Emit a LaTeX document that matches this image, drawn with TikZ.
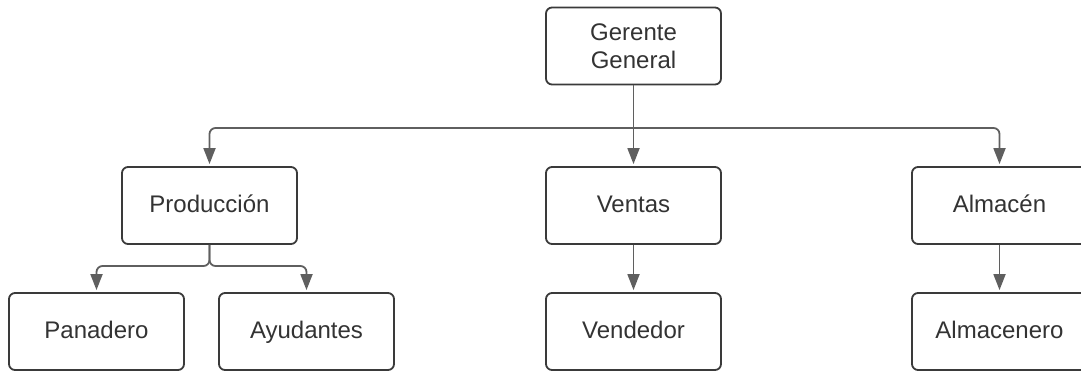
\documentclass[tikz,border=0pt]{standalone}
\usepackage{fontspec}
\setmainfont{Liberation Sans}
\usetikzlibrary{arrows.meta}
\definecolor{linegray}{HTML}{5F5F5F}
\definecolor{boxgray}{HTML}{3A3A3A}
\definecolor{textgray}{HTML}{333333}
\begin{document}
\begin{tikzpicture}[
    x=1pt, y=-1pt,
    node distance=159.5pt,
    box/.style={rectangle, draw=boxgray, line width=1.8pt, fill=white, text=textgray, minimum width=175pt, minimum height=77pt, align=center, rounded corners=6pt, font=\fontsize{24}{28}\selectfont},
    linebox/.style={box, text height=17.5pt, text depth=3.5pt},
    arrow/.style={-{Triangle[length=16pt,width=12pt]}, draw=linegray, line width=1.8pt, shorten >=2pt, rounded corners=6pt}
]
    \useasboundingbox (0,0) rectangle (1081,370);

    \node[box] (ger) at (633.5,46) {Gerente\\General};
    \node[linebox, below of=ger] (ven) {Ventas};
    \node[linebox, left of=ven, node distance=424pt] (prod) {Producción};
    \node[linebox, right of=ven, node distance=366pt] (alm) {Almacén};

    \node[linebox] (pan) at (96.5,331.5) {Panadero};
    \node[linebox] (ayu) at (306.5,331.5) {Ayudantes};
    \node[linebox, below of=ven, node distance=126pt] (vend) {Vendedor};
    \node[linebox, below of=alm, node distance=126pt] (almc) {Almacenero};

    \coordinate (bus) at (ger.south |- 0,128);
    \coordinate (split) at (prod.south |- 0,266);

    \draw[arrow] (ger) -- (ven);
    \draw[arrow] (bus) -| (prod.north);
    \draw[arrow] (bus) -| (alm.north);

    \draw[arrow] (prod.south) |- (split) -| (pan.north);
    \draw[arrow] (prod.south) |- (split) -| (ayu.north);
    \draw[arrow] (ven) -- (vend);
    \draw[arrow] (alm) -- (almc);
\end{tikzpicture}
\end{document}
